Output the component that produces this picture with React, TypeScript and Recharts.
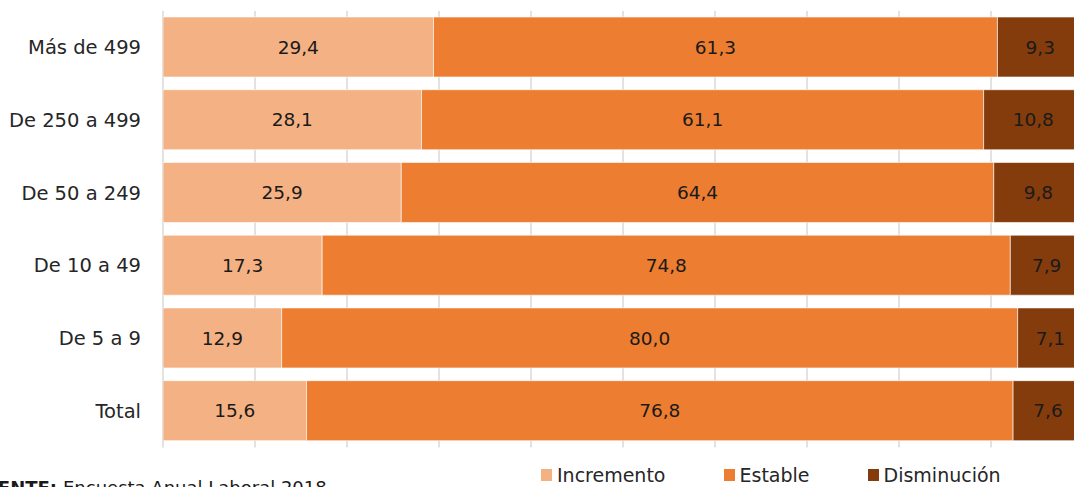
import React from 'react';
import { BarChart, Bar, XAxis, YAxis, CartesianGrid, LabelList, Legend } from 'recharts';

const categories = ['Más de 499', 'De 250 a 499', 'De 50 a 249', 'De 10 a 49', 'De 5 a 9', 'Total'];
const incremento = [29.4, 28.1, 25.9, 17.3, 12.9, 15.6];
const estable = [61.3, 61.1, 64.4, 74.8, 80.0, 76.8];
const disminucion = [9.3, 10.8, 9.8, 7.9, 7.1, 7.6];
const xTicks = [0, 10, 20, 30, 40, 50, 60, 70, 80, 90, 100];

const series = [
    { key: 'incremento', name: 'Incremento', color: '#F4B183' },
    { key: 'estable', name: 'Estable', color: '#ED7D31' },
    { key: 'disminucion', name: 'Disminución', color: '#843C0C' },
];

const data = categories.map((name, i) => ({
    name,
    incremento: incremento[i],
    estable: estable[i],
    disminucion: disminucion[i],
}));

const FONT = '"DejaVu Sans", sans-serif';
const fmt = (v: any) => Number(v).toFixed(1).replace('.', ',');

const LegendContent = () => (
    <div style={{ display: 'flex', fontFamily: FONT, fontSize: 19, color: '#262626', lineHeight: '22px' }}>
        {series.map((s, i) => (
            <div key={s.key} style={{ display: 'flex', alignItems: 'center', marginRight: i < series.length - 1 ? 58 : 0 }}>
                <span style={{ width: 11, height: 12, background: s.color, marginRight: 5, display: 'inline-block' }} />
                <span>{s.name}</span>
            </div>
        ))}
    </div>
);

const App: React.FC = () => {
    return (
        <div style={{ position: 'fixed', left: 0, top: 0, width: 1074, height: 487, overflow: 'hidden', background: '#fff' }}>
            <BarChart
                width={1100}
                height={487}
                data={data}
                layout="vertical"
                margin={{ top: 11, right: 17, bottom: 39.6, left: 0 }}
                barSize={60}
            >
                <CartesianGrid horizontal={false} vertical stroke="#d9d9d9" strokeWidth={1.5} />
                <XAxis type="number" domain={[0, 100]} ticks={xTicks} allowDataOverflow hide />
                <YAxis
                    type="category"
                    dataKey="name"
                    width={163}
                    axisLine={false}
                    tickLine={false}
                    tickMargin={16}
                    tick={{ fill: '#262626', fontSize: 19.5, fontFamily: FONT }}
                />
                <Legend
                    layout="horizontal"
                    verticalAlign="middle"
                    content={<LegendContent />}
                    wrapperStyle={{ position: 'absolute', left: 541, top: 464, width: 'auto', height: 'auto' }}
                />
                {series.map((s) => (
                    <Bar
                        key={s.key}
                        dataKey={s.key}
                        name={s.name}
                        stackId="a"
                        fill={s.color}
                        stroke="#ffffff"
                        strokeWidth={0.6}
                        isAnimationActive={false}
                    >
                        <LabelList
                            dataKey={s.key}
                            position="center"
                            formatter={fmt}
                            style={{ fill: '#1a1a1a', fontSize: 18.5, fontFamily: FONT }}
                        />
                    </Bar>
                ))}
            </BarChart>
            <div
                style={{
                    position: 'absolute',
                    top: 479,
                    left: 0,
                    width: 57,
                    textAlign: 'right',
                    whiteSpace: 'nowrap',
                    direction: 'rtl',
                    fontFamily: FONT,
                    fontSize: 18,
                    lineHeight: '18px',
                    fontWeight: 'bold',
                    color: '#1a1a1a',
                }}
            >
                <span style={{ direction: 'ltr', unicodeBidi: 'embed' }}>FUENTE:</span>
            </div>
            <div
                style={{
                    position: 'absolute',
                    top: 479,
                    left: 63,
                    whiteSpace: 'nowrap',
                    fontFamily: FONT,
                    fontSize: 18,
                    lineHeight: '18px',
                    color: '#1a1a1a',
                }}
            >
                Encuesta Anual Laboral 2018
            </div>
        </div>
    );
};

export default App;
